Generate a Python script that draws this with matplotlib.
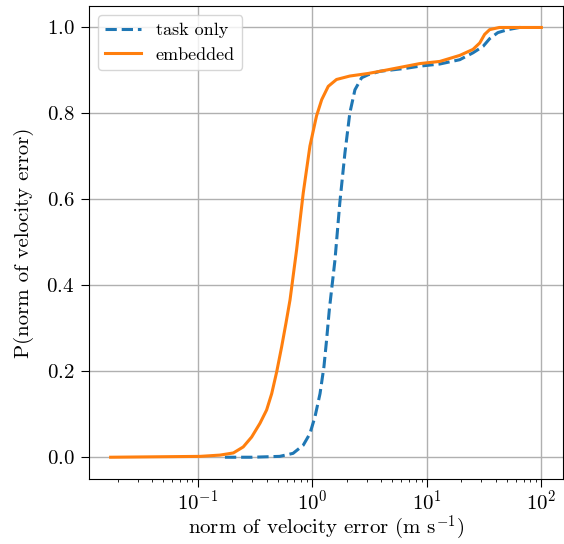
import matplotlib
matplotlib.use("Agg")
import matplotlib.pyplot as plt

# CDF, x in m/s (log axis), y is cumulative probability
task_x = [0.173, 0.3, 0.52, 0.68, 0.835, 0.955, 1.057, 1.17, 1.265, 1.335, 1.41,
          1.58, 1.74, 1.93, 2.13, 2.36, 2.70, 3.08, 3.9, 6.6, 8.7, 13.0, 19.4,
          25.3, 31.0, 35.4, 41.7, 51.0, 64.5, 69.0]
task_p = [0.0, 0.0, 0.002, 0.009, 0.028, 0.055, 0.094, 0.148, 0.21, 0.273, 0.343,
          0.459, 0.591, 0.708, 0.801, 0.855, 0.883, 0.89, 0.898, 0.905, 0.91, 0.915, 0.925,
          0.941, 0.956, 0.974, 0.988, 0.995, 1.0, 1.0]

emb_x = [0.0174, 0.105, 0.157, 0.205, 0.25, 0.296, 0.35, 0.40, 0.443, 0.49, 0.541,
         0.59, 0.64, 0.731, 0.835, 0.955, 1.09, 1.21, 1.38, 1.63, 2.13, 3.08, 3.9,
         6.65, 8.7, 13.0, 19.4, 25.3, 29.0, 32.0, 35.4, 43.0, 100.0]
emb_p = [0.0, 0.002, 0.005, 0.01, 0.024, 0.047, 0.079, 0.11, 0.148, 0.199, 0.257,
         0.312, 0.366, 0.483, 0.615, 0.724, 0.794, 0.832, 0.863, 0.879, 0.887, 0.893, 0.898,
         0.91, 0.916, 0.921, 0.935, 0.949, 0.964, 0.984, 0.995, 1.0, 1.0]

plt.rcParams['font.family'] = ['cmr10', 'DejaVu Serif']
plt.rcParams['mathtext.fontset'] = 'cm'
plt.rcParams['axes.formatter.use_mathtext'] = True
plt.rcParams['font.size'] = 15

fig, ax = plt.subplots(figsize=(5.64, 5.44), dpi=100)
fig.subplots_adjust(left=0.158, right=0.998, top=0.989, bottom=0.120)

ax.plot(task_x, task_p, '--', color='tab:blue', lw=2.2, label='task only')
ax.plot(emb_x, emb_p, '-', color='tab:orange', lw=2.2, label='embedded')
ax.set_xscale('log')
ax.grid(True, color='#b0b0b0', lw=1)
ax.tick_params(which='major', length=5.5, pad=5)
ax.tick_params(axis='x', pad=2.5)
ax.set_xlabel(r'norm of velocity error (m s$^{-1}$)', labelpad=0)
ax.set_ylabel('P(norm of velocity error)', labelpad=9)
ax.legend(loc='upper left', fontsize=13, handlelength=2.0)

fig.savefig('out.png', dpi=100)
